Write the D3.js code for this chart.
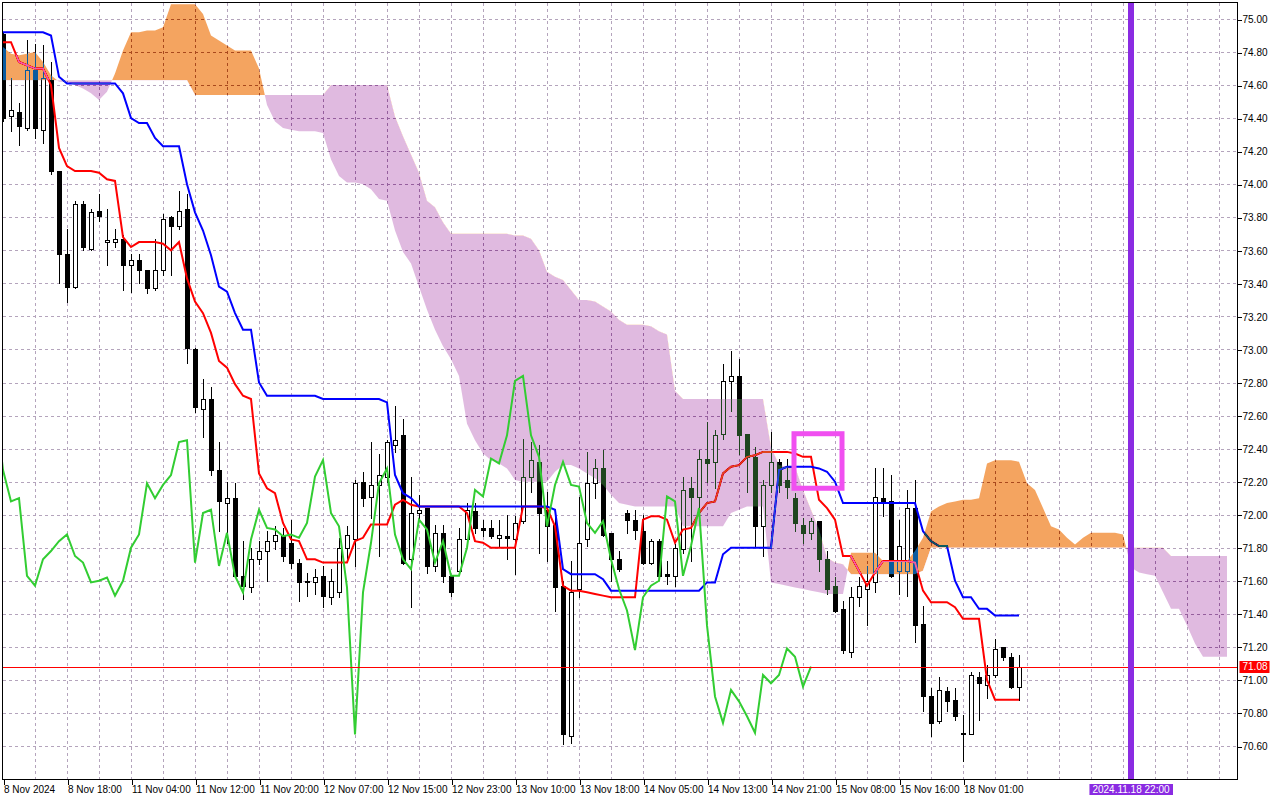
<!DOCTYPE html>
<html>
<head>
<meta charset="utf-8">
<title>Ichimoku H1</title>
<script src="https://cdn.jsdelivr.net/npm/d3@7"></script>
<style>
  html, body { margin: 0; padding: 0; background: #fff; }
  svg { display: block; font-family: Tahoma, "Liberation Sans", Arial, sans-serif; font-size: 10px; }
  .grid line { stroke: #b4a4bc; stroke-dasharray: 3 3; shape-rendering: crispEdges; }
  .axis path.domain { display: none; }
  .axis line { stroke: #000; shape-rendering: crispEdges; }
  .axis text { fill: #000; }
  .candle line, .candle rect { shape-rendering: crispEdges; }
</style>
</head>
<body>
<svg id="chart" width="1280" height="800"></svg>
<script>
/* Ichimoku on hourly candles, MT4 look: cloud is xor-ed over the chart. */
"use strict";

/* hourly bars, oldest first (8 Nov 2024 .. 18 Nov 2024) */
const open = [
  74.91, 74.41, 74.44, 74.34, 74.69, 74.33, 74.63, 74.08, 73.58, 73.38,
  73.88, 73.61, 73.84, 73.65, 73.65, 73.67, 73.51, 73.54, 73.48, 73.37,
  73.48, 73.80, 73.75, 73.85, 73.00, 72.64, 72.70, 72.27, 72.07, 72.10,
  71.63, 71.56, 71.73, 71.78, 71.84, 71.87, 71.83, 71.71, 71.59, 71.59,
  71.63, 71.50, 71.53, 71.80, 71.85, 72.20, 72.11, 72.18, 72.23, 72.42,
  72.48, 71.73, 72.01, 72.04, 71.69, 71.89, 71.63, 71.66, 71.85, 72.02,
  71.92, 71.92, 71.86, 71.87, 71.85, 71.96, 72.23, 72.32, 72.03, 71.94,
  71.57, 70.66, 71.55, 71.85, 72.19, 72.28, 71.89, 71.73, 72.01, 71.97,
  71.90, 71.71, 71.84, 71.64, 71.63, 71.79, 72.16, 72.11, 72.34, 72.32,
  72.49, 72.81, 72.84, 72.49, 72.35, 71.93, 72.18, 72.32, 72.21, 72.10,
  71.94, 71.89, 71.96, 71.73, 71.57, 71.43, 71.17, 71.50, 71.55, 71.59,
  72.10, 72.08, 71.66, 71.66, 72.04, 71.34, 70.90, 70.75, 70.93, 70.88,
  70.67, 70.67, 71.02, 70.97, 71.03, 71.20, 71.14, 70.96
];
const high = [
  74.92, 74.64, 74.49, 74.87, 74.85, 74.84, 74.74, 74.08, 73.73, 73.90,
  73.90, 73.85, 73.94, 73.85, 73.73, 73.69, 73.58, 73.58, 73.48, 73.67,
  73.82, 73.81, 73.96, 73.94, 73.01, 72.82, 72.77, 72.44, 72.20, 72.19,
  71.84, 71.80, 71.84, 71.90, 71.93, 71.92, 71.97, 71.73, 71.65, 71.67,
  71.69, 71.67, 71.86, 71.93, 72.21, 72.26, 72.44, 72.37, 72.45, 72.66,
  72.58, 72.23, 72.12, 72.04, 71.94, 71.94, 71.63, 71.92, 72.07, 72.07,
  71.97, 71.97, 71.97, 72.00, 71.99, 72.46, 72.44, 72.42, 72.14, 72.01,
  71.60, 71.72, 72.11, 72.38, 72.34, 72.39, 71.89, 71.78, 72.03, 72.03,
  72.00, 71.85, 71.85, 71.72, 71.82, 72.23, 72.23, 72.39, 72.56, 72.51,
  72.91, 72.99, 72.94, 72.49, 72.41, 72.21, 72.50, 72.34, 72.34, 72.13,
  71.98, 71.98, 71.96, 71.78, 71.62, 71.48, 71.56, 71.62, 71.69, 72.28,
  72.28, 72.24, 71.97, 72.15, 72.21, 71.45, 70.95, 71.02, 70.96, 70.95,
  70.79, 71.05, 71.05, 71.09, 71.25, 71.20, 71.16, 71.15
];
const low = [
  74.38, 74.32, 74.24, 74.33, 74.28, 74.25, 74.06, 73.40, 73.29, 73.37,
  73.60, 73.60, 73.78, 73.51, 73.62, 73.36, 73.35, 73.40, 73.34, 73.36,
  73.45, 73.45, 73.73, 72.92, 72.62, 72.47, 72.24, 71.90, 71.83, 71.62,
  71.49, 71.53, 71.70, 71.60, 71.79, 71.72, 71.68, 71.48, 71.51, 71.52,
  71.44, 71.46, 71.50, 71.72, 71.69, 72.05, 71.98, 71.75, 72.20, 72.38,
  71.70, 71.44, 71.97, 71.65, 71.66, 71.59, 71.51, 71.65, 71.84, 71.89,
  71.87, 71.86, 71.81, 71.73, 71.64, 71.95, 72.14, 71.77, 71.72, 71.42,
  70.61, 70.62, 71.50, 71.81, 72.10, 71.87, 71.60, 71.66, 71.89, 71.85,
  71.70, 71.70, 71.62, 71.58, 71.57, 71.77, 71.72, 71.96, 72.20, 72.16,
  72.46, 72.63, 72.37, 72.14, 71.81, 71.75, 72.14, 72.14, 72.10, 71.90,
  71.83, 71.85, 71.66, 71.52, 71.41, 71.16, 71.14, 71.45, 71.33, 71.53,
  71.99, 71.62, 71.52, 71.51, 71.23, 70.81, 70.66, 70.74, 70.81, 70.76,
  70.51, 70.67, 70.76, 70.89, 71.02, 71.12, 70.95, 70.88
];
const close = [
  74.40, 74.45, 74.35, 74.69, 74.34, 74.64, 74.08, 73.58, 73.38, 73.88,
  73.62, 73.83, 73.81, 73.66, 73.67, 73.51, 73.54, 73.48, 73.37, 73.48,
  73.79, 73.75, 73.84, 73.01, 72.65, 72.70, 72.27, 72.08, 72.10, 71.63,
  71.57, 71.73, 71.78, 71.84, 71.88, 71.75, 71.71, 71.59, 71.60, 71.62,
  71.51, 71.60, 71.80, 71.88, 72.19, 72.10, 72.18, 72.24, 72.44, 72.45,
  71.71, 72.01, 72.03, 71.69, 71.89, 71.63, 71.53, 71.85, 72.03, 71.92,
  71.91, 71.87, 71.88, 71.86, 71.95, 72.23, 72.33, 72.01, 71.93, 71.56,
  70.67, 71.53, 71.83, 72.19, 72.28, 71.88, 71.73, 71.67, 71.97, 71.91,
  71.71, 71.84, 71.63, 71.63, 71.80, 72.15, 72.11, 72.34, 72.31, 72.48,
  72.81, 72.84, 72.48, 72.35, 71.93, 72.18, 72.32, 72.18, 72.17, 71.95,
  71.89, 71.96, 71.73, 71.55, 71.42, 71.18, 71.50, 71.57, 71.60, 72.11,
  72.08, 71.63, 71.81, 72.04, 71.33, 70.90, 70.74, 70.94, 70.87, 70.78,
  70.68, 71.03, 70.98, 71.03, 71.19, 71.14, 70.96, 71.08
];

/* tenkan-sen (red) and kijun-sen (blue), one value per bar */
const tenkan = [
  74.86, 74.86, 74.74, 74.72, 74.70, 74.70, 74.60, 74.22, 74.11, 74.08,
  74.08, 74.08, 74.07, 74.03, 74.02, 73.68, 73.62, 73.65, 73.65, 73.65,
  73.64, 73.60, 73.65, 73.43, 73.29, 73.22, 73.10, 72.93, 72.89, 72.79,
  72.72, 72.70, 72.25, 72.16, 72.13, 71.95, 71.85, 71.84, 71.73, 71.73,
  71.71, 71.71, 71.71, 71.71, 71.84, 71.86, 71.94, 71.94, 71.94, 72.06,
  72.09, 72.06, 72.05, 72.05, 72.05, 72.05, 72.05, 72.05, 72.01, 71.84,
  71.83, 71.80, 71.80, 71.80, 71.80, 72.05, 72.05, 72.05, 72.04, 71.93,
  71.57, 71.54, 71.54, 71.53, 71.52, 71.51, 71.50, 71.50, 71.50, 71.50,
  71.97, 71.99, 71.99, 71.97, 71.83, 71.91, 71.92, 72.01, 72.07, 72.08,
  72.25, 72.29, 72.30, 72.35, 72.36, 72.38, 72.38, 72.38, 72.38, 72.37,
  72.35, 72.35, 72.09, 72.04, 71.97, 71.75, 71.75, 71.66, 71.57, 71.65,
  71.72, 71.72, 71.72, 71.72, 71.71, 71.54, 71.47, 71.47, 71.47, 71.44,
  71.37, 71.37, 71.37, 71.00, 70.88, 70.88, 70.88, 70.88
];
const kijun = [
  74.92, 74.92, 74.92, 74.92, 74.92, 74.92, 74.90, 74.65, 74.61, 74.61,
  74.61, 74.61, 74.61, 74.61, 74.61, 74.55, 74.40, 74.37, 74.37, 74.28,
  74.23, 74.23, 74.23, 74.00, 73.83, 73.72, 73.57, 73.38, 73.35, 73.22,
  73.12, 73.12, 72.80, 72.72, 72.72, 72.72, 72.72, 72.72, 72.72, 72.72,
  72.70, 72.70, 72.70, 72.70, 72.70, 72.70, 72.70, 72.70, 72.68, 72.24,
  72.13, 72.10, 72.05, 72.05, 72.05, 72.05, 72.05, 72.05, 72.05, 72.05,
  72.05, 72.05, 72.05, 72.05, 72.05, 72.05, 72.05, 72.05, 72.05, 72.03,
  71.67, 71.64, 71.64, 71.64, 71.64, 71.61, 71.54, 71.54, 71.54, 71.54,
  71.54, 71.54, 71.54, 71.54, 71.54, 71.54, 71.54, 71.54, 71.59, 71.59,
  71.76, 71.80, 71.80, 71.80, 71.80, 71.80, 71.80, 72.27, 72.29, 72.29,
  72.29, 72.29, 72.28, 72.26, 72.20, 72.07, 72.07, 72.07, 72.07, 72.07,
  72.07, 72.07, 72.07, 72.07, 72.07, 71.90, 71.84, 71.81, 71.81, 71.60,
  71.50, 71.50, 71.43, 71.43, 71.39, 71.39, 71.39, 71.39
];

/* senkou span A / B, already shifted: they run 26 bars past the last candle */
const spanA = [
  74.83, 74.79, 74.78, 74.79, 74.80, 74.74, 74.66, 74.62, 74.62, 74.60,
  74.58, 74.55, 74.51, 74.56, 74.67, 74.81, 74.92, 74.92, 74.93, 74.93,
  74.95, 75.09, 75.09, 75.09, 75.09, 75.03, 74.90, 74.87, 74.84, 74.81,
  74.81, 74.81, 74.70, 74.48, 74.38, 74.34, 74.33, 74.32, 74.32, 74.32,
  74.31, 74.15, 74.05, 74.01, 74.01, 74.00, 73.97, 73.91, 73.90, 73.72,
  73.59, 73.52, 73.38, 73.24, 73.12, 73.02, 72.94, 72.84, 72.55, 72.45,
  72.37, 72.33, 72.31, 72.28, 72.21, 72.20, 72.20, 72.20, 72.20, 72.26,
  72.30, 72.30, 72.28, 72.25, 72.22, 72.18, 72.12, 72.07, 72.06, 72.05,
  72.05, 72.05, 72.05, 72.05, 72.05, 71.93, 71.93, 71.93, 71.93, 71.93,
  71.93, 72.01, 72.03, 72.05, 72.05, 72.05, 71.59, 71.58, 71.57, 71.56,
  71.55, 71.54, 71.53, 71.52, 71.52, 71.52, 71.77, 71.77, 71.77, 71.77,
  71.72, 71.72, 71.72, 71.72, 71.78, 71.86, 72.02, 72.05, 72.07, 72.08,
  72.09, 72.09, 72.10, 72.31, 72.33, 72.33, 72.33, 72.32, 72.19, 72.15,
  72.04, 71.93, 71.91, 71.86, 71.82, 71.86, 71.89, 71.89, 71.89, 71.89,
  71.88, 71.68, 71.65, 71.64, 71.63, 71.53, 71.43, 71.43, 71.33, 71.22,
  71.14, 71.14, 71.14, 71.14
];
const spanB = [
  74.63, 74.63, 74.63, 74.63, 74.63, 74.63, 74.63, 74.63, 74.63, 74.63,
  74.63, 74.63, 74.63, 74.63, 74.63, 74.63, 74.63, 74.63, 74.63, 74.63,
  74.63, 74.63, 74.63, 74.63, 74.54, 74.54, 74.54, 74.54, 74.54, 74.54,
  74.54, 74.54, 74.54, 74.54, 74.54, 74.54, 74.54, 74.54, 74.54, 74.54,
  74.54, 74.60, 74.60, 74.60, 74.60, 74.60, 74.60, 74.60, 74.60, 74.41,
  74.29, 74.18, 74.07, 73.90, 73.86, 73.77, 73.70, 73.70, 73.70, 73.70,
  73.70, 73.70, 73.70, 73.70, 73.69, 73.69, 73.67, 73.60, 73.47, 73.44,
  73.42, 73.36, 73.30, 73.30, 73.29, 73.26, 73.23, 73.18, 73.15, 73.15,
  73.15, 73.14, 73.11, 73.09, 72.75, 72.70, 72.70, 72.70, 72.70, 72.70,
  72.70, 72.70, 72.70, 72.70, 72.70, 72.70, 72.41, 72.30, 72.29, 72.29,
  72.15, 72.03, 71.91, 71.74, 71.71, 71.70, 71.64, 71.64, 71.64, 71.64,
  71.64, 71.64, 71.64, 71.64, 71.64, 71.66, 71.80, 71.80, 71.80, 71.80,
  71.80, 71.80, 71.80, 71.80, 71.80, 71.80, 71.80, 71.80, 71.80, 71.80,
  71.80, 71.80, 71.80, 71.80, 71.80, 71.80, 71.80, 71.80, 71.80, 71.80,
  71.80, 71.80, 71.80, 71.80, 71.80, 71.80, 71.75, 71.75, 71.75, 71.75,
  71.75, 71.75, 71.75, 71.75
];

/* chikou span is the close plotted this many bars back */
const CHIKOU_SHIFT = 26;

const priceTicks = [
  70.6, 70.8, 71.0, 71.2, 71.4, 71.6, 71.8, 72.0, 72.2, 72.4, 72.6, 72.8,
  73.0, 73.2, 73.4, 73.6, 73.8, 74.0, 74.2, 74.4, 74.6, 74.8, 75.0
];
const timeBars = [0, 8, 16, 24, 32, 40, 48, 56, 64, 72, 80, 88, 96, 104, 112, 120];
const timeLabels = [
  "8 Nov 2024", "8 Nov 18:00", "11 Nov 04:00", "11 Nov 12:00", "11 Nov 20:00",
  "12 Nov 07:00", "12 Nov 15:00", "12 Nov 23:00", "13 Nov 10:00", "13 Nov 18:00",
  "14 Nov 05:00", "14 Nov 13:00", "14 Nov 21:00", "15 Nov 08:00", "15 Nov 16:00",
  "18 Nov 01:00"
];

const lastPrice = 71.08;
const markerBar = 141;
const markerLabel = "2024.11.18 22:00";
const boxBars = [99, 105];
const boxPrices = [72.49, 72.16];

/* -- layout ------------------------------------------------------------- */

const plot = { left: 2.5, top: 2.5, right: 1237.5, bottom: 779.5 };
const COLORS = {
  tenkan: "#ff0000",
  kijun: "#0000ff",
  chikou: "#32cd32",
  /* cloud is drawn in "difference" mode, so these are the complements
     of SandyBrown and a light thistle */
  bull: "#0b5b9f",
  bear: "#1f451f",
  marker: "#8a2be2",
  box: "#f04ff0"
};

const nBars = spanA.length;
const x = d3.scaleLinear([0, nBars - 1], [3, 3 + 8 * (nBars - 1)]);
const y = d3.scaleLinear([70.6, 75.0], [746, 19]);
const px = (v) => Math.round(v) + 0.5;

const svg = d3.select("#chart");
const defs = svg.append("defs");

svg.append("rect").attr("width", 1280).attr("height", 800).attr("fill", "#fff");

defs
  .append("clipPath")
  .attr("id", "plot-clip")
  .append("rect")
  .attr("x", plot.left)
  .attr("y", plot.top)
  .attr("width", plot.right - plot.left)
  .attr("height", plot.bottom - plot.top);

const idx = d3.range(nBars);
defs
  .append("clipPath")
  .attr("id", "above-b")
  .append("path")
  .attr("d", d3.area().x((i) => x(i)).y0(-50).y1((i) => y(spanB[i]))(idx));
defs
  .append("clipPath")
  .attr("id", "below-b")
  .append("path")
  .attr("d", d3.area().x((i) => x(i)).y0((i) => y(spanB[i])).y1(900)(idx));

const layer = svg.append("g").attr("clip-path", "url(#plot-clip)");

/* the clipped group is isolated, so it needs its own white backdrop
   for the difference blend of the cloud */
layer
  .append("rect")
  .attr("x", 0)
  .attr("y", 0)
  .attr("width", 1280)
  .attr("height", 800)
  .attr("fill", "#fff");

/* grid */
const grid = layer.append("g").attr("class", "grid");
grid
  .selectAll("line.h")
  .data(priceTicks)
  .join("line")
  .attr("class", "h")
  .attr("x1", plot.left)
  .attr("x2", plot.right)
  .attr("y1", (d) => px(y(d)))
  .attr("y2", (d) => px(y(d)));
grid
  .selectAll("line.v")
  .data(d3.range(4, nBars, 4))
  .join("line")
  .attr("class", "v")
  .attr("x1", (i) => px(x(i)))
  .attr("x2", (i) => px(x(i)))
  .attr("y1", plot.top)
  .attr("y2", plot.bottom);

/* candles */
const candle = layer
  .append("g")
  .selectAll("g")
  .data(d3.range(close.length))
  .join("g")
  .attr("class", "candle");

candle
  .append("line")
  .attr("x1", (i) => px(x(i)))
  .attr("x2", (i) => px(x(i)))
  .attr("y1", (i) => Math.round(y(high[i])))
  .attr("y2", (i) => Math.round(y(low[i])) + 1)
  .attr("stroke", "#000");

candle
  .append("rect")
  .attr("x", (i) => px(x(i)) - 2)
  .attr("width", 4)
  .attr("y", (i) => px(y(Math.max(open[i], close[i]))))
  .attr("height", (i) =>
    Math.max(1, Math.round(y(Math.min(open[i], close[i]))) - Math.round(y(Math.max(open[i], close[i]))))
  )
  .attr("fill", (i) => (close[i] >= open[i] ? "#fff" : "#000"))
  .attr("stroke", "#000");

/* tenkan / kijun */
const line = d3.line().x((d, i) => x(i)).y((d) => y(d));
layer.append("path").attr("d", line(tenkan)).attr("fill", "none")
  .attr("stroke", COLORS.tenkan).attr("stroke-width", 2);
layer.append("path").attr("d", line(kijun)).attr("fill", "none")
  .attr("stroke", COLORS.kijun).attr("stroke-width", 2);

/* kumo, xor-like over everything drawn so far */
const band = d3.area().x((i) => x(i)).y0((i) => y(spanA[i])).y1((i) => y(spanB[i]));
const cloud = layer.append("g").style("mix-blend-mode", "difference");
cloud.append("path").attr("d", band(idx)).attr("fill", COLORS.bull)
  .attr("clip-path", "url(#above-b)");
cloud.append("path").attr("d", band(idx)).attr("fill", COLORS.bear)
  .attr("clip-path", "url(#below-b)");

/* chikou */
layer
  .append("path")
  .attr("d", d3.line().x((d, i) => x(i - CHIKOU_SHIFT)).y((d) => y(d))(close))
  .attr("fill", "none")
  .attr("stroke", COLORS.chikou)
  .attr("stroke-width", 2);

/* last price line */
layer
  .append("line")
  .attr("x1", plot.left)
  .attr("x2", plot.right)
  .attr("y1", px(y(lastPrice)))
  .attr("y2", px(y(lastPrice)))
  .attr("stroke", "#ff0000")
  .style("shape-rendering", "crispEdges");

/* hand-drawn rectangle object */
layer
  .append("rect")
  .attr("x", x(boxBars[0]) - 1)
  .attr("y", y(boxPrices[0]))
  .attr("width", x(boxBars[1]) - x(boxBars[0]))
  .attr("height", y(boxPrices[1]) - y(boxPrices[0]))
  .attr("fill", "none")
  .attr("stroke", COLORS.box)
  .attr("stroke-width", 5);

/* vertical line object */
layer
  .append("rect")
  .attr("x", x(markerBar) - 3)
  .attr("width", 6)
  .attr("y", plot.top)
  .attr("height", plot.bottom - plot.top)
  .attr("fill", COLORS.marker);

/* frame */
svg
  .append("rect")
  .attr("x", plot.left)
  .attr("y", plot.top)
  .attr("width", plot.right - plot.left)
  .attr("height", plot.bottom - plot.top)
  .attr("fill", "none")
  .attr("stroke", "#000")
  .style("shape-rendering", "crispEdges");

/* -- axes ---------------------------------------------------------------- */

svg
  .append("g")
  .attr("class", "axis")
  .attr("transform", `translate(${plot.right},0.5)`)
  .call(d3.axisRight(y).tickValues(priceTicks).tickSize(4).tickFormat(d3.format(".2f")))
  .call((g) => g.selectAll("text").attr("x", 5));

svg
  .append("g")
  .attr("class", "axis")
  .attr("transform", `translate(0.5,${plot.bottom})`)
  .call(
    d3.axisBottom(x).tickValues(timeBars).tickSize(5).tickFormat((d, i) => timeLabels[i])
  )
  .call((g) => g.selectAll("text").attr("text-anchor", "start").attr("x", 0).attr("y", 6));

/* last price tag */
const tagY = Math.round(y(lastPrice));
svg
  .append("rect")
  .attr("x", plot.right + 2)
  .attr("y", tagY - 6)
  .attr("width", 30)
  .attr("height", 12)
  .attr("fill", "#ff0000");
svg
  .append("text")
  .attr("x", plot.right + 5)
  .attr("y", tagY)
  .attr("dy", "0.34em")
  .attr("fill", "#fff")
  .text(lastPrice.toFixed(2));

/* vertical line time tag */
const tag = svg.append("g");
const tagText = tag
  .append("text")
  .attr("x", x(markerBar))
  .attr("y", 793)
  .attr("text-anchor", "middle")
  .attr("fill", "#fff")
  .text(markerLabel);
const bb = tagText.node().getBBox();
tag
  .insert("rect", "text")
  .attr("x", bb.x - 3)
  .attr("y", 784)
  .attr("width", bb.width + 6)
  .attr("height", 11)
  .attr("fill", COLORS.marker);
</script>
</body>
</html>
